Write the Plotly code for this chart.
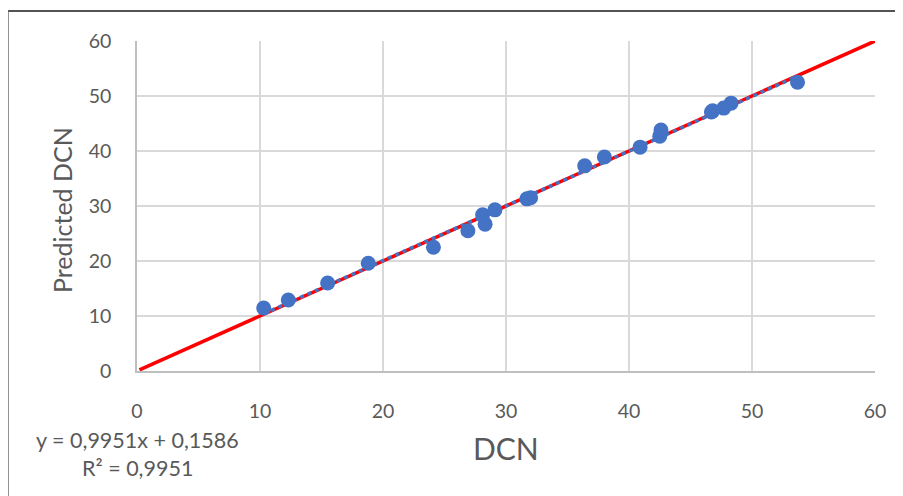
import plotly.graph_objects as go

dcn = [10.3, 12.3, 15.5, 18.8, 24.1, 26.9, 28.1, 28.3, 29.1, 31.7, 32.0,
       36.4, 38.0, 40.9, 42.5, 42.6, 46.7, 46.8, 47.7, 48.3, 53.7]
predicted = [11.45, 12.9, 16.0, 19.6, 22.5, 25.5, 28.4, 26.7, 29.3, 31.3, 31.5,
             37.3, 38.9, 40.7, 42.7, 43.8, 47.1, 47.3, 47.8, 48.7, 52.5]
ref_x = [0.2, 60]
slope = 0.9951
intercept = 0.1586
x_ticks = [0, 10, 20, 30, 40, 50, 60]
y_ticks = [0, 10, 20, 30, 40, 50, 60]

font = "Lato, 'Noto Sans', sans-serif"
grey = "#595959"

# page body has an 8px margin: plot area should land at x 137..875, y 41..371
W, H = 895, 488
L, R, T, B = 129, 28, 33, 125
pw, ph = W - L - R, H - T - B


def px_x(x):
    return (x - 8 - L) / pw


def px_y(y):
    return (H - B + 8 - y) / ph


fig = go.Figure()
fig.add_trace(go.Scatter(x=ref_x, y=ref_x, mode="lines",
                         line=dict(color="#FF0000", width=3.5),
                         showlegend=False, hoverinfo="skip"))
fig.add_trace(go.Scatter(x=dcn, y=predicted, mode="markers",
                         marker=dict(color="#4472C4", size=15),
                         showlegend=False))
tx = [min(dcn), max(dcn)]
fig.add_trace(go.Scatter(x=tx, y=[slope * v + intercept for v in tx],
                         mode="lines",
                         line=dict(color="#4472C4", width=3.5, dash="4px,4px"),
                         showlegend=False, hoverinfo="skip"))

axis_common = dict(range=[0, 60], showgrid=True, gridcolor="#d9d9d9",
                   gridwidth=1.8, zeroline=False, showline=True, linecolor="#bfbfbf",
                   linewidth=1.5, ticks="outside", tickcolor="rgba(0,0,0,0)",
                   tickfont=dict(size=19.5, color=grey))

fig.update_layout(
    width=W, height=H,
    margin=dict(l=L, r=R, t=T, b=B),
    paper_bgcolor="white", plot_bgcolor="white",
    font=dict(family=font, color=grey, size=19),
    xaxis=dict(tickvals=x_ticks, ticklen=22, **axis_common),
    yaxis=dict(tickvals=y_ticks, ticklen=20, **axis_common),
    shapes=[
        dict(type="line", xref="paper", yref="paper", x0=px_x(8), x1=px_x(910),
             y0=px_y(11), y1=px_y(11), line=dict(color="#1a1a1a", width=1.5)),
        dict(type="line", xref="paper", yref="paper", x0=px_x(8), x1=px_x(8),
             y0=px_y(11), y1=px_y(510), line=dict(color="#6e6e6e", width=1.5)),
    ],
    annotations=[
        dict(text="DCN", xref="paper", yref="paper", x=px_x(506), y=px_y(448),
             showarrow=False, font=dict(size=30, color=grey),
             xanchor="center", yanchor="middle"),
        dict(text="Predicted DCN", xref="paper", yref="paper", x=px_x(62),
             y=px_y(210), showarrow=False, textangle=-90,
             font=dict(size=25, color=grey), xanchor="center", yanchor="middle"),
        dict(text="y = 0,9951x + 0,1586", xref="paper", yref="paper",
             x=px_x(137), y=px_y(440), showarrow=False,
             font=dict(size=21.5, color=grey), xanchor="center", yanchor="middle"),
        dict(text="R² = 0,9951", xref="paper", yref="paper",
             x=px_x(137), y=px_y(468), showarrow=False,
             font=dict(size=21.5, color=grey), xanchor="center", yanchor="middle"),
    ],
)

fig.write_html("out.html")
